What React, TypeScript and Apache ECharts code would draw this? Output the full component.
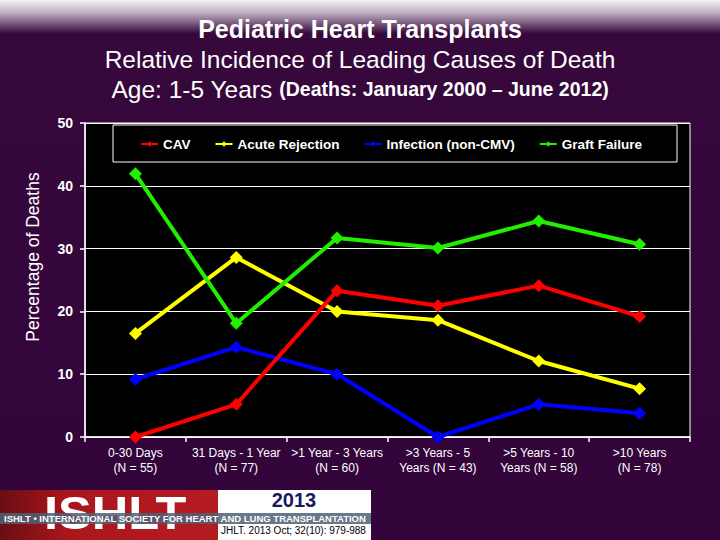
import React, { useEffect, useRef } from "react";
import * as echarts from "echarts";

const categories = [
  "0-30 Days\n(N = 55)",
  "31 Days - 1 Year\n(N = 77)",
  ">1 Year - 3 Years\n(N = 60)",
  ">3 Years - 5\nYears (N = 43)",
  ">5 Years - 10\nYears (N = 58)",
  ">10 Years\n(N = 78)",
];
const cav = [0, 5.2, 23.3, 20.9, 24.1, 19.2];
const acuteRejection = [16.5, 28.6, 20.0, 18.6, 12.1, 7.7];
const infection = [9.2, 14.3, 10.0, 0, 5.2, 3.8];
const graftFailure = [41.9, 18.1, 31.7, 30.1, 34.4, 30.7];
const seriesNames = ["CAV", "Acute Rejection", "Infection (non-CMV)", "Graft Failure"];
const seriesColors = ["#ff0000", "#ffff00", "#0000ff", "#22ee00"];
const yTicks = { min: 0, max: 50, interval: 10 };

const FONT = "'Liberation Sans', Arial, sans-serif";

export default function App() {
  const ref = useRef<HTMLDivElement>(null);
  useEffect(() => {
    if (!ref.current) return;
    const chart = echarts.init(ref.current, null, { renderer: "svg" });
    const dataSets = [cav, acuteRejection, infection, graftFailure];
    const option: any = {
      animation: false,
      backgroundColor: new echarts.graphic.LinearGradient(0, 0, 0, 1, [
        { offset: 0, color: "#f6f4f6" },
        { offset: 0.025, color: "#bba9bd" },
        { offset: 0.062, color: "#36083c" },
        { offset: 1, color: "#32043a" },
      ]),
      textStyle: { fontFamily: FONT },
      grid: {
        left: 85,
        right: 30,
        top: 123,
        bottom: 103,
        show: true,
        backgroundColor: "#000000",
        borderColor: "#ffffff",
        borderWidth: 1,
      },
      legend: {
        data: seriesNames,
        left: 140,
        top: 137,
        padding: 0,
        itemGap: 24,
        itemWidth: 17,
        itemHeight: 7,
        z: 6,
        textStyle: { color: "#ffffff", fontSize: 13.5, fontWeight: "bold", fontFamily: FONT },
      },
      xAxis: {
        type: "category",
        data: categories,
        boundaryGap: true,
        axisLine: { lineStyle: { color: "#ffffff", width: 1.5 } },
        axisTick: { show: true, length: 5, lineStyle: { color: "#ffffff", width: 1.5 } },
        axisLabel: {
          color: "#ffffff",
          fontSize: 12,
          lineHeight: 15,
          interval: 0,
          margin: 8,
          fontFamily: FONT,
        },
        splitLine: { show: false },
      },
      yAxis: {
        type: "value",
        min: yTicks.min,
        max: yTicks.max,
        interval: yTicks.interval,
        axisLine: { show: true, lineStyle: { color: "#ffffff", width: 1.5 } },
        axisTick: { show: true, length: 5, lineStyle: { color: "#ffffff", width: 1.5 } },
        axisLabel: { color: "#ffffff", fontSize: 14, fontWeight: "bold", margin: 12, fontFamily: FONT },
        splitLine: { show: true, lineStyle: { color: "#ffffff", width: 1.2 } },
      },
      series: seriesNames.map((name, i) => ({
        name,
        type: "line",
        data: dataSets[i],
        symbol: "diamond",
        symbolSize: 13,
        lineStyle: { color: seriesColors[i], width: 4 },
        itemStyle: { color: seriesColors[i] },
        z: i === 0 ? 4 : 3,
      })),
      graphic: [
        {
          type: "rect",
          shape: { x: 113, y: 125, width: 564, height: 37 },
          style: { fill: "#000000", stroke: "#ffffff", lineWidth: 1 },
          z: 5,
        },
        {
          type: "text",
          x: 360,
          y: 29,
          style: {
            text: "Pediatric Heart Transplants",
            fill: "#ffffff",
            font: `bold 25px ${FONT}`,
            textAlign: "center",
            textVerticalAlign: "middle",
          },
        },
        {
          type: "text",
          x: 360,
          y: 59,
          style: {
            text: "Relative Incidence of Leading Causes of Death",
            fill: "#ffffff",
            font: `24.5px ${FONT}`,
            textAlign: "center",
            textVerticalAlign: "middle",
          },
        },
        {
          type: "text",
          x: 360,
          y: 89,
          style: {
            text: "{a|Age: 1-5 Years }{b|(Deaths: January 2000 – June 2012)}",
            textAlign: "center",
            textVerticalAlign: "middle",
            rich: {
              a: { fill: "#ffffff", fontSize: 24.5, fontFamily: FONT },
              b: { fill: "#ffffff", fontSize: 19.5, fontWeight: "bold", fontFamily: FONT },
            },
          },
        },
        {
          type: "text",
          x: 33,
          y: 257,
          rotation: Math.PI / 2,
          style: {
            text: "Percentage of Deaths",
            fill: "#ffffff",
            font: `17.5px ${FONT}`,
            textAlign: "center",
            textVerticalAlign: "middle",
          },
        },
        {
          type: "rect",
          shape: { x: 0, y: 490, width: 218, height: 50 },
          style: {
            fill: new echarts.graphic.LinearGradient(0, 0, 1, 0, [
              { offset: 0, color: "#6a0e12" },
              { offset: 0.3, color: "#a8161c" },
              { offset: 1, color: "#b51c22" },
            ]),
          },
        },
        {
          type: "text",
          x: 44,
          y: 513,
          scaleX: 1.1,
          style: {
            text: "ISHLT",
            fill: "#ffffff",
            font: `bold 46px ${FONT}`,
            textAlign: "left",
            textVerticalAlign: "middle",
          },
        },
        {
          type: "rect",
          shape: { x: 218, y: 490, width: 153, height: 50 },
          style: { fill: "#ffffff" },
        },
        {
          type: "rect",
          shape: { x: 0, y: 513, width: 371, height: 11 },
          style: { fill: "rgba(78,96,116,0.85)" },
        },
        {
          type: "text",
          x: 4,
          y: 518.5,
          style: {
            text: "ISHLT • INTERNATIONAL SOCIETY FOR HEART AND LUNG TRANSPLANTATION",
            fill: "#ffffff",
            font: `bold 9.5px ${FONT}`,
            textAlign: "left",
            textVerticalAlign: "middle",
          },
        },
        {
          type: "text",
          x: 294,
          y: 500,
          style: {
            text: "2013",
            fill: "#1a1a5e",
            font: `bold 20px ${FONT}`,
            textAlign: "center",
            textVerticalAlign: "middle",
          },
        },
        {
          type: "text",
          x: 221,
          y: 530,
          style: {
            text: "JHLT. 2013 Oct; 32(10): 979-988",
            fill: "#000000",
            font: `10px ${FONT}`,
            textAlign: "left",
            textVerticalAlign: "middle",
          },
        },
      ],
    };
    chart.setOption(option);
    return () => chart.dispose();
  }, []);
  return (
    <div
      ref={ref}
      style={{ position: "fixed", left: 0, top: 0, width: 720, height: 540 }}
    />
  );
}
